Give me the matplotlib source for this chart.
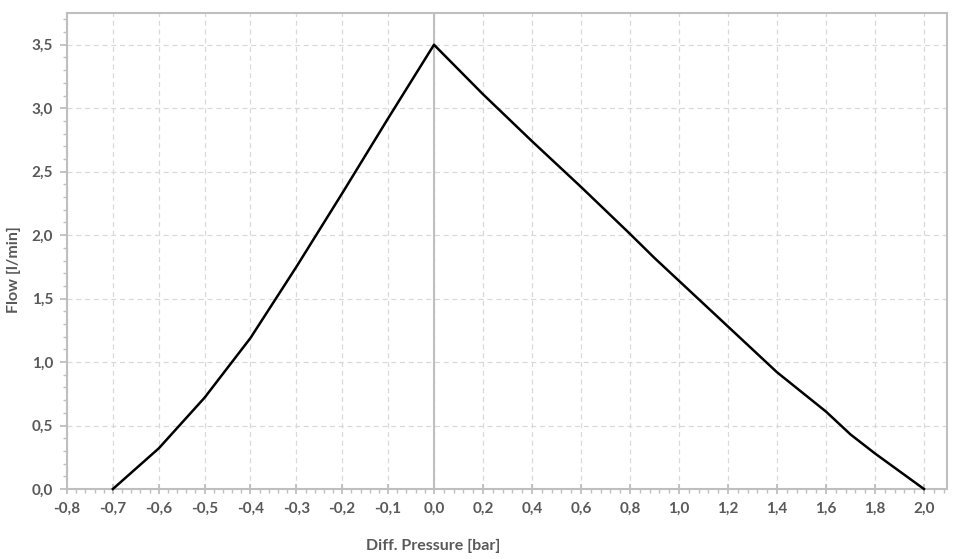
import numpy as np
import matplotlib
matplotlib.use("Agg")
import matplotlib.pyplot as plt
from matplotlib.ticker import FixedLocator, FuncFormatter

# Data
pressure = [-0.7, -0.6, -0.5, -0.4, -0.3, -0.2, -0.1, 0.0,
            0.2, 0.4, 0.6, 0.8, 0.9, 1.0, 1.1, 1.2, 1.4, 1.6, 1.7, 1.8, 2.0]
flow = [0.0, 0.32, 0.72, 1.19, 1.75, 2.33, 2.92, 3.5,
        3.11, 2.74, 2.38, 2.01, 1.82, 1.64, 1.46, 1.28, 0.92, 0.61, 0.43, 0.28, 0.0]

neg_ticks = [-0.8, -0.7, -0.6, -0.5, -0.4, -0.3, -0.2, -0.1]
pos_ticks = [0.0, 0.2, 0.4, 0.6, 0.8, 1.0, 1.2, 1.4, 1.6, 1.8, 2.0]
y_ticks = [0.0, 0.5, 1.0, 1.5, 2.0, 2.5, 3.0, 3.5]

K_NEG = 367 / 0.8
K_POS = 490 / 2.0

def fwd(x):
    x = np.asarray(x, dtype=float)
    return np.where(x < 0, x * K_NEG, x * K_POS)

def inv(u):
    u = np.asarray(u, dtype=float)
    return np.where(u < 0, u / K_NEG, u / K_POS)

GRAY_TXT = "#595959"
GRAY_AX = "#BFBFBF"
plt.rcParams['font.family'] = ['Lato', 'DejaVu Sans']

fig = plt.figure(figsize=(9.6, 5.59), dpi=100)
ax = fig.add_axes([67/960, 1-489/559, (947-67)/960, (489-13)/559])
ax.set_xscale('function', functions=(fwd, inv))
ax.set_xlim(-0.8, 2.094)
ax.set_ylim(0, 3.75)

major_x = neg_ticks + pos_ticks
minor_x = [v for v in np.round(np.arange(-0.8, 0.0001, 0.02), 3)] + \
          [v for v in np.round(np.arange(0.0, 2.094, 0.04), 3)]
minor_x = [v for v in minor_x if not any(abs(v - m) < 1e-6 for m in major_x)]
ax.xaxis.set_major_locator(FixedLocator(major_x))
ax.xaxis.set_minor_locator(FixedLocator(minor_x))
ax.yaxis.set_major_locator(FixedLocator(y_ticks))
ax.yaxis.set_minor_locator(FixedLocator(np.round(np.arange(0, 3.75, 0.1), 2)))

fmt = FuncFormatter(lambda v, p: f"{v:.1f}".replace('.', ','))
ax.xaxis.set_major_formatter(fmt)
ax.yaxis.set_major_formatter(fmt)

ax.grid(True, which='major', color="#D9D9D9", linestyle=(0, (4, 3)), linewidth=0.9)
ax.set_axisbelow(True)
ax.axvline(0, color=GRAY_AX, linewidth=1.5, zorder=1)

for s in ax.spines.values():
    s.set_color(GRAY_AX)
    s.set_linewidth(1.5)

ax.tick_params(axis='x', which='major', direction='inout', length=7, width=1.3,
               color=GRAY_AX, labelsize=11, labelcolor=GRAY_TXT, pad=6)
ax.tick_params(axis='x', which='minor', direction='out', length=3, width=1.0, color=GRAY_AX)
ax.tick_params(axis='y', which='major', direction='out', length=5, width=1.3,
               color=GRAY_AX, labelsize=11, labelcolor=GRAY_TXT, pad=5)
ax.tick_params(axis='y', which='minor', direction='out', length=3, width=1.0, color=GRAY_AX)
for lbl in ax.get_xticklabels() + ax.get_yticklabels():
    lbl.set_fontweight('bold')

ax.plot(pressure, flow, color='black', linewidth=1.8, zorder=3, clip_on=False)

fig.text(433/960, 1-546/559, "Diff. Pressure [bar]", ha='center', va='center',
         fontsize=11.5, fontweight='bold', color=GRAY_TXT)
fig.text(14/960, 1-270/559, "Flow [l/min]", ha='center', va='center', rotation=90,
         fontsize=11.5, fontweight='bold', color=GRAY_TXT)

fig.savefig("out.png", dpi=100)
